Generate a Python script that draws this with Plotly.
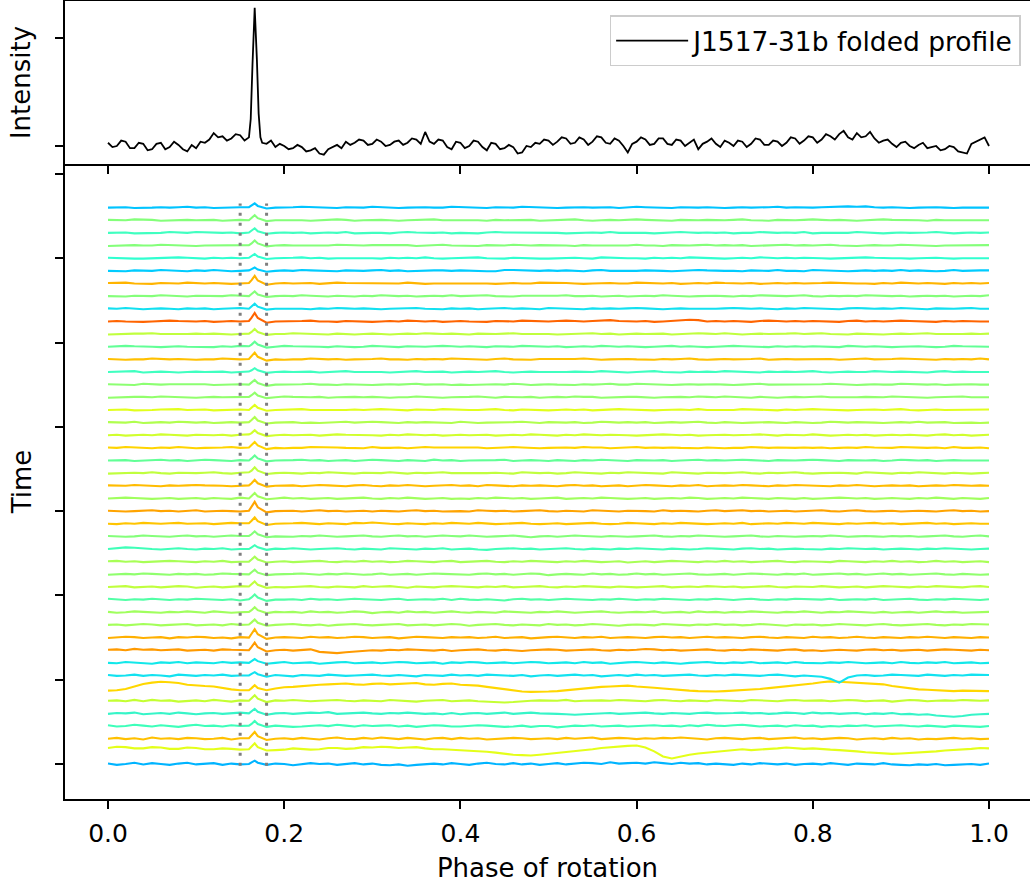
import plotly.graph_objects as go

# ---------------- data ----------------
# Folded (integrated) profile, arbitrary intensity units; phase bins of 0.005 plus the pulse
profile_phase = ([k / 200 for k in range(0, 33)]
                 + [0.162, 0.164, 0.1665, 0.169, 0.171, 0.173]
                 + [k / 200 for k in range(35, 201)])
profile_intensity = [
    3, -1, 0, 5, 4, -2, -2, 3, 2, -4, -3, 2, 3, -3, -1, 4, 1, -3, -5, 1,
    -2, 4, 3, 6, 12, 8, 9, 5, 7, 11, 10, 5, 8,
    25, 75, 128, 80, 30, 8,
    3, 2, 5, -1, 2, 0, -3, -2, 1, -1, -5, -4, -2, -7, -8, -3, -1, 1, -2, 4,
    1, 3, 6, 5, 1, 2, 6, 4, 0, 1, 4, 5, 1, 3, 7, 6, 2, 13, 4, 2,
    6, 5, -1, -3, 4, 3, -2, 0, 5, 4, -1, -4, 3, 2, -3, -2, 1, -1, -7, -6,
    0, -1, 3, 2, 6, 5, 1, 4, 8, 7, 2, 3, 8, 6, 1, 4, 9, 8, 3, 2,
    7, 5, 0, -6, 2, 4, 8, 6, 1, 2, 7, 7, 2, 1, 6, 5, 0, 3, 6, -3,
    2, 4, 7, 2, -1, 5, 3, 0, 5, 4, -1, 2, 7, 6, 1, 1, 5, 4, 0, 3,
    8, 7, 2, 5, 9, 8, 3, 6, 11, 9, 6, 11, 14, 8, 6, 12, 8, 9, 13, 7,
    3, 5, 6, 2, -1, 3, 4, 0, -2, 1, 3, -2, -1, 0, -4, -3, 0, -1, -5, -6,
    -7, 2, 4, 6, 8, 0,
]

# Sub-integrations, bottom -> top; phase bins of 0.01, values in tenths of a unit
trace_phase = [k / 100 for k in range(101)]
pulse_phase = [0.163, 0.1665]

subint_tenths = [
    [1,-2,0,3,-1,2,0,-2,1,3, -1,0,2,-2,1,-1,0,3,-2,1, 0,-3,-1,2,0,1,-2,0,2,-1, 1,-2,-3,-1,-4,-2,0,1,-1,2, 0,-2,1,3,0,-1,2,-1,1,-2, 0,2,-1,1,3,2,0,4,1,2, 3,1,4,2,0,3,1,2,-1,1, 0,-2,1,-1,2,0,-1,1,-2,0, 1,-1,2,0,-2,1,0,-1,2,-1, -2,-3,-1,-2,0,-3,-2,-1,0,-2, 1],
    [8,11,10,7,7,10,9,6,6,9, 8,5,5,7,6,4,5,10,2,3, 4,7,6,4,5,8,8,6,7,10, 9,11,10,8,9,10,7,5,5,4, 3,2,1,-1,-3,-6,-8,-9,-10,-8, -6,-4,-2,1,3,5,8,10,12,13, 14,9,0,-12,-17,-12,-8,-5,-3,0, 2,4,5,3,4,6,7,9,8,6, 7,5,4,3,2,0,-2,-3,-4,-6, -5,-4,-3,-1,0,2,3,5,6,8, 7],
    [0,2,-1,1,-2,3,0,1,-1,2, 1,-1,0,2,-2,1,1,6,-3,0, 1,-1,2,0,-2,1,3,0,-1,2, 0,3,1,-1,2,0,-2,1,2,-1, 2,0,1,-2,-1,0,2,1,-1,0, 1,-1,2,0,1,3,-1,0,2,1, -1,1,0,2,1,3,2,0,-2,1, 2,0,-1,1,2,-1,0,1,3,0, 1,-1,0,2,1,-2,0,1,-1,2, 0,1,-2,0,-1,1,2,0,1,-1, 0],
    [2,-1,0,3,1,-1,2,0,-2,1, 3,0,1,-1,2,0,1,5,-2,1, 0,-2,-1,1,2,0,3,1,-1,2, 0,1,2,-1,1,-2,0,2,1,-1, -1,0,2,1,0,-2,-1,1,-2,0, 0,-3,-1,1,0,2,-1,0,1,-1, 0,1,2,0,1,-1,2,0,3,1, 0,2,3,1,-1,0,1,-1,2,0, 1,-2,0,-1,1,0,2,-1,0,1, 2,0,-1,1,0,-2,1,0,-1,-2, 0],
    [-1,1,0,2,-2,0,1,-1,2,0, -2,0,1,-1,0,2,0,4,-3,0, 1,-1,0,2,1,3,-1,0,1,2, 0,-1,1,0,2,1,-1,0,-2,1, -2,0,1,-1,0,2,-1,1,2,0, 0,-1,-2,-3,-2,-1,0,1,-1,0, 1,2,0,-1,1,0,-1,1,2,0, 0,1,2,0,1,-1,0,2,1,-1, 2,0,1,-1,0,1,-2,0,-1,1, -2,-1,-3,-2,-5,-7,-8,-6,-3,-2, -1],
    [0,1,-1,2,-1,2,0,1,-2,0, 1,-1,2,0,-2,1,0,5,-3,1, 0,2,1,-1,0,1,2,0,-1,1, 0,-1,2,1,0,-2,0,1,2,-1, 0,1,-1,-2,-3,-4,-3,-1,0,1, 1,0,2,-1,0,1,1,0,2,1, 0,-1,1,2,0,-1,1,0,-1,2, 1,0,-1,2,1,0,-1,1,2,0, 0,1,-1,0,2,1,-1,0,1,-2, 0,2,1,-1,0,1,0,2,1,0, 1],
    [-6,-5,-2,4,10,13,15,14,12,8, 6,5,4,0,-3,-5,-5,0,-5,-1, 2,3,5,7,8,9,10,11,9,8, 10,11,9,10,11,12,9,8,10,11, 8,7,6,3,0,-3,-6,-8,-9,-9, -8,-7,-5,-3,0,2,3,4,5,6, 4,3,1,-1,-3,-5,-6,-7,-8,-8, -7,-6,-5,-4,-2,0,2,4,7,9, 11,14,16,15,14,13,12,10,9,5, 2,0,-3,-4,-5,-6,-7,-6,-6,-7, -7],
    [1,-1,0,2,-1,1,0,-2,2,0, -1,1,0,2,-1,0,0,3,-3,1, 0,-2,1,0,-1,2,1,-1,0,1, 2,0,-1,1,0,-2,1,0,-1,2, 0,1,-1,2,1,0,-1,1,-2,0, 1,-1,0,2,0,1,-2,0,1,-1, 2,0,1,-1,0,1,2,0,-1,1, 0,2,1,0,-1,1,2,0,-2,0, -1,-3,-8,-17,-5,0,1,-1,0,2, 1,0,-1,2,0,-1,1,0,2,1, 1],
    [0,-1,2,1,0,-2,1,0,2,-1, 1,0,-1,2,0,1,0,4,-2,0, 2,-1,0,1,-2,0,1,2,-1,0, 1,-1,0,2,1,-1,0,1,-2,1, 0,2,1,-1,0,1,-1,0,2,1, -1,0,1,-1,2,0,1,-2,0,1, 2,0,-1,1,0,-2,0,1,2,0, -1,1,0,2,-1,0,1,-1,2,0, 0,-1,1,0,2,1,-1,0,1,-1, 2,0,-1,1,0,2,-1,0,1,-1, 0],
    [1,2,0,3,1,2,0,1,2,-1, 0,1,-1,2,1,0,0,7,-3,0, 1,-1,0,2,-4,-6,-7,-5,-3,-1, 0,-1,1,0,2,1,0,-1,1,-2, 0,1,2,0,-1,1,0,-2,0,1, 2,1,-1,0,1,2,0,-1,1,0, 1,3,2,0,1,-1,0,1,2,0, -1,1,0,2,1,0,-1,1,2,-1, 0,-2,-1,1,0,-1,1,2,0,1, -1,0,1,-1,0,2,1,0,-1,1, 0],
    [-1,0,2,1,-1,0,1,-2,1,0, 2,1,-1,0,-2,1,0,8,-3,0, 1,0,-1,2,0,1,-1,0,2,1, -1,0,1,-2,0,2,1,0,-1,1, 0,1,-1,0,2,-1,0,1,-2,0, 1,2,0,-1,1,0,2,-1,0,1, 0,-1,1,2,0,1,-1,0,2,0, 1,0,-1,1,2,0,-1,1,0,-1, 2,0,1,-1,0,2,0,-1,1,0, -1,1,0,2,0,-1,1,0,-1,1, 0],
    [0,1,-1,0,2,1,-1,0,1,2, -1,0,1,-1,2,0,1,5,-2,0, 1,2,0,-1,1,-2,0,1,2,0, -1,0,1,2,-1,0,1,-1,0,2, 1,-2,0,1,2,0,-1,1,0,-1, 2,0,1,-1,0,2,1,0,-2,0, 1,0,-1,2,1,0,-1,1,0,2, 0,1,-1,0,2,1,0,-2,1,0, 1,-1,0,2,1,0,-1,1,2,0, -1,0,1,2,0,-1,1,0,2,1, 1],
    [1,-1,0,2,1,0,-1,1,0,2, 0,-1,2,1,-1,0,1,5,-2,1, 0,1,-1,2,0,1,-1,0,2,1, -2,0,1,-1,2,0,1,-1,0,2, 0,-1,1,0,-1,2,1,0,-1,1, 0,2,1,-1,0,1,2,0,-1,0, 1,0,2,-1,0,1,-1,2,0,1, -1,1,0,2,1,0,-1,1,0,2, 0,-1,1,0,2,1,0,-1,1,-1, 0,1,-1,0,2,0,1,-1,0,1, 1],
    [2,0,-1,1,0,2,1,-1,1,0, 2,1,0,-1,1,-2,1,5,-3,0, 0,1,-1,2,0,1,-1,0,2,1, 0,-1,1,2,-1,0,1,0,2,-1, 2,0,-1,1,0,-2,1,2,0,1, -1,0,2,1,0,-1,1,0,2,0, -1,1,0,2,1,0,-1,1,0,2, 0,-1,1,2,0,-1,1,0,2,1, 1,0,2,-1,0,1,0,2,-1,0, 1,2,0,-1,1,0,2,1,0,-1, 1],
    [0,1,2,-1,0,1,-1,0,2,1, -2,0,1,-1,0,2,1,5,-2,0, -1,0,1,2,0,-1,1,0,-1,2, 0,1,2,0,-2,1,0,-1,1,2, 1,0,-1,1,0,2,-1,0,1,2, 0,-1,1,0,2,1,0,-1,1,0, -1,0,1,2,-1,0,1,0,2,1, 0,1,-1,0,1,2,0,-1,1,0, 0,2,1,-1,0,1,-1,0,2,1, 0,-1,1,0,2,1,0,-1,1,2, 0],
    [-1,0,1,0,2,1,0,-1,1,0, 1,-1,0,2,1,0,0,4,-2,0, 0,1,2,0,-1,1,0,2,1,-1, 0,2,-1,0,1,-1,0,2,1,0, 0,-1,1,2,0,1,-1,0,2,1, -2,0,1,0,-1,2,0,1,-1,0, 2,0,1,-1,0,1,2,0,-1,0, 1,-1,0,2,1,0,-1,1,0,2, -1,0,1,2,0,1,-1,0,2,0, 1,-1,0,1,2,0,-1,1,0,-1, 0],
    [1,2,0,1,-1,0,1,2,1,0, -1,1,0,2,-1,0,0,5,-2,0, 1,-1,0,1,2,0,-1,1,0,2, 0,1,-1,0,2,1,0,-1,1,2, -1,0,1,2,0,-1,1,0,2,1, 0,-1,1,0,2,1,-1,0,1,-2, 0,1,-1,0,2,1,0,-1,1,0, 2,0,1,-1,0,1,2,0,-1,1, 1,0,-1,2,1,0,-1,1,0,2, 0,1,-1,0,2,0,1,-1,0,1, -1],
    [0,2,4,3,1,0,-1,1,2,0, -1,1,0,2,-1,0,0,4,-2,1, 0,2,1,-1,0,1,2,0,-1,1, 0,-1,2,1,0,-1,1,0,2,-1, 0,1,-1,-2,0,1,2,0,1,-1, 0,1,2,0,-1,1,0,-1,1,0, 2,1,0,-1,1,0,-1,0,2,1, 0,-1,1,2,0,1,-1,0,1,0, 0,-1,1,0,2,1,0,1,-1,0, 1,0,-1,1,0,2,1,0,-1,0, 1],
    [1,0,-1,0,2,1,0,-1,1,2, 0,1,-1,0,2,1,1,5,-2,0, 0,-1,1,0,2,1,-1,0,1,2, 0,-1,1,2,0,1,-1,0,2,1, 0,2,1,-1,0,1,2,0,-2,0, 1,-1,0,2,1,0,-1,1,0,-1, 0,1,2,0,-1,1,0,2,1,0, -1,0,1,2,0,-1,1,0,-1,0, 1,0,2,1,-1,0,1,0,-1,1, 0,1,-1,0,1,2,0,-1,1,2, 0],
    [0,-1,1,0,2,1,0,1,2,0, 0,1,-1,0,2,1,1,6,-3,0, 0,1,2,0,-1,1,0,-1,2,1, 3,1,0,-1,1,0,-1,1,0,2, 1,0,2,1,-1,0,1,2,0,-1, 0,1,-1,0,1,2,0,-1,0,2, 1,0,-1,1,0,2,1,0,-1,0, 1,0,2,-1,0,1,0,2,1,0, 2,1,0,-1,1,0,1,2,0,1, -1,0,1,2,0,1,-1,0,1,0, 0],
    [1,0,-1,0,1,2,0,1,-1,0, 2,-1,0,1,0,-1,1,9,-3,0, 0,1,-1,0,2,0,1,-1,0,1, -1,1,0,-1,1,2,0,1,-1,0, 0,-1,2,1,0,1,-1,0,1,2, 0,-1,1,0,-1,2,1,0,-1,1, 1,0,-1,2,0,1,0,-1,1,2, 0,1,2,0,1,-1,0,1,-1,0, 1,2,0,-1,1,2,0,-1,0,1, -1,0,1,0,-1,1,2,0,1,-1, 0],
    [0,1,2,1,0,-1,0,1,-1,0, 1,-1,1,0,-1,2,0,5,-2,0, 2,0,1,-1,0,1,-1,0,1,2, 0,-1,1,0,2,1,-1,0,1,-1, 0,-1,1,0,2,1,0,1,-1,0, 1,2,-1,0,1,0,2,1,0,-1, 0,1,-1,0,1,0,2,1,-1,0, 1,0,2,1,0,-1,1,0,-1,1, -1,0,1,2,1,0,1,-1,0,1, 0,-1,1,0,2,0,-1,1,0,-1, 1],
    [1,0,0,2,1,0,-1,1,0,1, 2,1,1,0,-1,0,1,6,-2,0, 0,1,-1,0,2,1,0,-1,1,2, 0,-1,1,0,2,1,-1,0,1,2, 0,1,-1,2,1,0,-1,1,0,1, 0,-1,1,2,0,1,-1,0,1,-1, 0,2,1,0,-1,1,0,2,-1,0, 1,0,2,1,0,-1,1,0,2,1, 1,0,-1,1,0,2,1,-1,0,1, 0,1,-1,0,1,0,2,1,0,1, 0],
    [-1,0,1,1,0,2,0,-1,1,0, 0,1,2,0,-1,1,2,6,-2,0, 1,0,-1,1,0,2,1,0,-1,1, 1,0,2,0,-1,1,0,1,2,0, 0,-1,-1,0,1,0,-1,2,1,0, 1,-1,0,2,1,0,-1,1,0,2, 1,0,0,-1,2,1,0,-1,1,0, 0,1,2,0,-1,1,0,1,2,0, -1,0,1,1,0,-1,2,1,0,-1, 1,0,2,1,0,-1,1,0,-1,0, 1],
    [0,1,1,-1,0,1,2,0,1,-1, 0,2,1,0,-1,1,0,5,-2,0, 0,1,2,0,1,-1,0,1,-1,0, 2,1,0,-1,1,0,-1,2,0,1, -1,0,0,1,1,2,-1,0,1,0, -1,1,0,-1,1,0,2,1,0,-1, 1,0,0,1,-1,0,1,2,0,1, 0,1,2,1,0,-1,1,0,0,1, 2,1,0,-1,1,0,0,1,-1,0, 2,1,0,1,-1,0,1,0,0,-1, 0],
    [1,0,2,1,0,-1,1,0,2,1, -1,0,0,1,2,0,1,6,-3,0, -1,0,0,2,2,1,1,0,0,-1, 2,0,0,1,-1,0,2,1,1,0, 0,1,1,-1,0,0,2,1,0,-1, 0,1,1,0,2,1,1,-1,0,1, 2,0,1,0,1,0,0,-1,1,0, -1,0,0,2,1,0,1,0,0,1, 0,1,-1,0,1,0,2,1,0,0, 2,1,0,0,1,-1,2,0,0,1, -1],
    [0,1,-1,0,1,0,2,1,0,-1, 1,0,0,1,-1,1,2,5,-2,0, 1,0,0,1,-1,0,2,1,1,0, 0,-1,1,0,2,1,0,1,-1,0, 1,0,0,1,-1,0,1,0,2,1, 0,-1,1,0,2,1,0,1,1,0, -1,0,0,2,1,0,1,-1,0,1, 1,0,0,1,2,0,-1,1,0,0, 2,0,-1,0,1,0,1,-1,0,1, 0,1,0,-1,1,2,0,1,-1,0, 1],
    [1,0,0,2,-1,0,1,0,2,1, 0,1,-1,0,1,0,1,5,-2,0, 0,1,-1,0,-1,0,1,2,0,1, 2,1,0,-1,1,0,1,0,0,-1, 2,1,-1,0,0,1,1,2,0,-1, 1,0,0,1,-1,0,2,1,0,1, 0,1,-1,0,1,0,1,2,0,-1, 1,0,-1,0,1,1,0,-1,1,0, -1,0,2,1,0,1,1,0,-1,0, 1,0,2,0,0,1,-1,0,0,-1, 0],
    [0,1,1,-1,-1,0,1,2,2,0, 0,1,-1,0,0,1,0,5,-2,0, 1,1,2,0,0,-1,-1,0,1,0, 1,2,1,0,-1,1,0,0,2,1, 1,0,0,1,2,0,-1,1,0,0, -1,0,1,0,1,-1,0,1,2,1, 0,0,-1,0,1,1,0,2,0,0, 1,0,2,1,0,0,-1,1,0,1, 2,1,0,-1,-1,0,1,1,0,1, 2,0,-1,0,1,0,0,1,1,0, 1],
    [-1,0,0,1,1,0,2,1,1,0, -1,0,1,0,0,1,1,4,-2,0, 2,1,0,0,1,-1,0,1,1,0, 1,0,-1,0,0,2,1,0,-1,0, 0,1,2,0,-1,1,0,0,1,-1, 0,1,0,2,1,1,-1,0,0,1, 1,0,-1,0,1,1,0,2,1,0, 2,1,0,-1,1,0,-1,0,1,0, 1,2,0,0,-1,0,1,1,0,2, 1,0,0,-1,0,1,1,2,0,0, 0],
    [1,0,0,-1,2,1,0,1,1,0, 0,1,-1,0,0,1,0,4,-3,0, 0,1,1,2,0,0,-1,1,0,0, -1,0,1,0,1,2,0,0,1,-1, 0,-1,0,1,1,0,2,1,-1,0, 1,0,0,-1,1,0,1,2,0,0, 2,1,0,0,-1,0,1,0,1,1, 0,-1,0,1,2,0,0,1,0,1, 0,1,2,1,0,-1,0,1,0,0, 2,1,0,0,1,-1,0,1,1,0, 0],
    [0,1,1,2,-1,0,1,0,-1,0, 1,0,0,1,-1,0,1,4,-2,0, 1,0,0,1,-1,0,1,2,0,0, 1,0,-1,0,1,2,0,1,1,-1, 0,1,0,1,2,0,-1,0,1,0, 0,-1,0,1,1,0,2,1,0,-1, 0,1,2,0,0,-1,1,0,1,0, 2,1,0,0,-1,1,0,1,0,1, 2,0,-1,0,1,0,0,2,1,0, 1,0,0,-1,1,2,0,1,0,0, 0],
    [1,0,-1,0,0,2,1,0,1,0, -1,0,0,2,1,0,1,6,-3,0, -1,0,0,2,1,0,1,-1,0,0, 1,2,0,0,-1,1,0,1,0,2, 1,0,0,-1,1,2,0,0,-1,1, 1,0,0,1,2,0,-1,0,1,1, 0,0,-1,1,0,1,2,0,-1,0, 1,0,0,1,2,-1,0,1,0,0, 1,0,1,-1,0,1,2,0,0,1, 2,1,0,0,-1,1,0,1,0,2, 0],
    [0,1,2,1,1,0,-1,0,1,0, 0,0,-1,1,0,2,1,5,-2,0, 2,1,1,0,0,-1,1,0,-1,0, 2,1,0,-1,1,0,0,1,2,1, 0,1,0,-1,1,0,0,2,1,0, 0,1,-1,0,1,0,2,1,0,1, 0,-1,0,1,2,0,1,0,-1,0, 1,2,1,0,0,-1,1,0,1,0, 1,0,0,-1,2,1,0,1,0,-1, 0,1,1,0,-1,0,2,1,1,0, 0],
    [-1,0,0,1,1,2,0,0,-1,0, 1,0,1,0,-1,0,1,5,-2,0, 0,2,1,0,0,-1,1,0,-1,0, 1,0,-1,0,1,0,2,1,0,1, 0,-1,1,0,0,1,2,0,0,1, 0,-1,0,1,1,2,0,1,-1,0, 1,0,0,1,-1,0,1,2,1,0, 2,0,-1,0,1,0,0,1,2,0, 1,2,0,0,-1,1,0,0,-1,0, 1,0,1,2,0,0,-1,0,1,0, 1],
    [0,1,0,-1,-1,0,1,2,1,0, 0,1,-1,0,1,0,1,8,-3,0, 0,1,1,2,0,0,-1,1,0,0, -1,0,1,0,2,1,0,1,-1,0, 1,0,0,-1,1,1,0,2,1,0, 0,1,2,1,0,1,2,3,1,0, 0,1,-1,0,1,2,4,3,0,1, 0,1,0,-1,1,2,1,0,1,0, 1,0,0,-1,1,2,0,1,0,1, 2,1,0,0,-1,1,0,1,0,0, 0],
    [1,0,2,0,-1,0,1,0,-1,1, 0,1,-1,0,1,2,0,5,-2,0, 0,1,0,-1,1,0,2,1,0,1, 0,-1,0,1,1,2,0,0,-1,1, 0,1,-1,0,1,2,0,1,0,-1, 2,1,0,0,-1,1,0,1,0,1, 2,1,0,-1,0,1,0,0,-1,0, 1,2,1,0,1,0,-1,1,0,2, 1,0,0,-1,1,2,1,0,1,0, 2,1,0,-1,1,0,0,1,2,0, 0],
    [0,0,-1,1,1,0,2,1,0,-1, 1,1,0,0,2,1,0,4,-2,0, 1,0,2,1,0,-1,1,0,-1,1, 0,2,1,0,1,-1,0,1,0,2, 0,1,1,2,0,0,-1,1,1,0, 0,1,2,0,0,1,-1,0,1,-1, 0,1,0,2,1,0,-1,0,1,1, 0,-1,1,0,2,1,0,0,1,2, 0,-1,1,0,1,0,2,1,0,0, 1,-1,0,1,0,1,-1,0,1,0, 2],
    [1,1,2,0,0,-1,1,1,0,2, 1,0,1,0,-1,0,1,7,-3,0, 1,0,0,1,-1,0,2,1,1,0, 1,0,1,0,2,1,-1,0,0,1, 1,1,0,0,-1,0,1,0,0,2, 2,1,1,0,-1,0,1,1,0,0, 2,1,0,0,1,-1,0,1,0,2, 1,0,0,1,-1,0,1,0,1,0, 0,1,2,1,1,0,0,-1,1,0, 2,1,0,1,0,-1,1,0,1,0, 1],
    [0,0,-1,1,1,0,2,1,0,-1, 1,0,2,0,-1,0,1,3,-2,0, 1,0,2,1,0,0,-1,1,0,0, 1,2,0,1,-1,0,0,1,1,0, 1,0,0,-1,-1,2,2,1,0,0, 1,0,1,0,-1,1,2,0,0,-1, 0,1,1,0,-1,0,1,2,1,0, 0,0,-1,1,1,0,2,0,0,-1, 2,1,1,0,-1,0,1,0,1,0, 2,0,1,0,-1,0,2,0,1,1, 1],
    [1,0,0,-1,-1,0,1,2,2,1, 0,-1,1,0,1,0,1,4,-2,0, 0,1,2,0,1,-1,0,0,1,1, 0,-1,1,0,1,0,2,0,-1,0, 1,1,2,0,0,-1,1,0,0,-1, -1,0,1,1,0,-1,2,1,0,0, 0,-1,1,0,1,0,2,1,0,0, -1,0,1,0,2,1,0,1,0,1, 1,0,-1,0,0,1,2,1,0,0, 0,-1,0,1,1,0,-1,0,0,1, 0],
    [-1,0,1,1,0,0,2,1,1,0, -1,0,0,1,1,0,1,5,-2,0, 1,0,0,-1,-1,0,2,1,0,0, 1,1,0,0,1,-1,0,1,2,0, 0,0,-1,1,1,0,2,1,0,1, 1,0,0,-1,1,0,0,1,1,0, 2,0,0,-1,1,0,0,1,2,0, 1,0,1,-1,0,0,1,2,0,1, 0,1,2,0,-1,-1,0,1,0,0, 2,1,1,0,-1,0,0,1,0,0, 1],
    [0,1,1,-1,-1,0,0,2,1,0, 2,1,0,0,1,-1,1,4,-2,0, 1,0,1,-1,0,1,0,2,-1,0, 0,0,-1,1,2,1,0,0,1,-1, 0,0,-1,1,2,1,1,0,0,1, 1,0,-1,0,1,1,0,2,0,0, 1,0,-1,0,0,2,1,0,1,0, 1,-1,0,0,2,1,0,1,0,2, -1,0,0,1,0,2,1,0,-1,0, 1,0,0,1,2,1,-1,0,1,0, 1],
    [1,0,0,2,2,1,-1,0,1,1, 0,1,1,-1,0,1,0,5,-2,0, 0,1,0,-1,0,1,2,1,-1,0, 1,1,0,-1,0,1,1,2,0,0, 0,1,0,-1,1,0,0,1,1,-1, 0,1,1,2,0,-1,0,1,0,1, 2,1,0,0,-1,1,0,0,1,0, 0,1,2,0,0,-1,1,0,0,1, 2,1,0,1,0,-1,0,1,2,1, 1,0,0,-1,1,0,0,1,1,0, 0],
    [0,0,1,-1,-1,0,1,0,1,2, 0,1,-1,0,0,1,1,4,-2,0, 0,1,2,1,1,0,-1,1,0,0, 2,1,0,-1,0,1,1,0,0,2, 1,0,0,-1,1,0,0,2,1,1, 0,-1,0,1,1,0,0,1,-1,0, 2,1,0,0,-1,1,0,0,1,0, -1,0,1,0,0,1,2,0,1,0, 0,1,2,3,3,2,3,1,0,1, 0,-1,0,1,1,0,-1,0,0,1, 0],
]

# pulse samples at pulse_phase, tenths of a unit
pulse_tenths = [
    [4, 8], [11, 19], [7, 16], [5, 12], [5, 11], [6, 13], [0, 7], [4, 8], [4, 9],
    [8, 18], [9, 20], [6, 13], [5, 12], [5, 12], [6, 13], [5, 11], [5, 12], [4, 9],
    [5, 12], [7, 15], [10, 22], [6, 13], [6, 14], [6, 14], [5, 12], [6, 14], [5, 12],
    [6, 13], [5, 12], [5, 11], [5, 11], [4, 9], [7, 16], [5, 12], [5, 12], [9, 20],
    [5, 12], [5, 11], [8, 18], [4, 8], [5, 10], [5, 12], [5, 11], [5, 12], [5, 10],
]

subint_colors = [
    "#00b4ff", "#e4ff1a", "#ffc000", "#3dffba", "#36f5c8", "#c4ff33", "#ffd700", "#12e2f0",
    "#12e8ea", "#ff9a00", "#ffb000", "#a4ff5a", "#a0ff5e", "#52ffa6", "#c0ff3e", "#90ff6e",
    "#a8ff56", "#40ffb8", "#84ff7a", "#ffc400", "#ffa400", "#a0ff5e", "#ffbc00", "#c0ff3e",
    "#62ff96", "#ffd400", "#d0ff2e", "#b0ff4e", "#e2ff1c", "#92ff6c", "#8cff72", "#40ffc0",
    "#ffc000", "#62ff96", "#c0ff3e", "#ff6400", "#12e0f0", "#84ff7a", "#ffb400", "#00ccff",
    "#30ffd0", "#84ff7a", "#40ffc0", "#84ff7a", "#00c4ff",
]

on_pulse_window = [0.15, 0.18]
x_ticks = [0.0, 0.2, 0.4, 0.6, 0.8, 1.0]
x_ticklabels = ["0.0", "0.2", "0.4", "0.6", "0.8", "1.0"]
time_ticks = [0, 20, 40, 60, 80, 100, 120, 140]
intensity_ticks = [0, 100]

assert len(profile_phase) == len(profile_intensity), (len(profile_phase), len(profile_intensity))
for n, row in enumerate(subint_tenths):
    assert len(row) == len(trace_phase), (n, len(row))
assert len(subint_tenths) == len(pulse_tenths) == len(subint_colors)

# ---------------- figure ----------------
FONT = "DejaVu Sans"
STACK = 3.0
fig = go.Figure()

fig.add_trace(go.Scatter(
    x=profile_phase, y=profile_intensity, mode="lines",
    line=dict(color="black", width=1.8), name="J1517-31b folded profile",
    xaxis="x2", yaxis="y2", showlegend=True, hoverinfo="skip"))

all_y = []
for i, (row, pulse, col) in enumerate(zip(subint_tenths, pulse_tenths, subint_colors)):
    pts = sorted(list(zip(trace_phase, row)) + list(zip(pulse_phase, pulse)))
    xs = [p for p, _ in pts]
    ys = [STACK * i + v / 10.0 for _, v in pts]
    all_y.extend(ys)
    fig.add_trace(go.Scatter(x=xs, y=ys, mode="lines", line=dict(color=col, width=2.1),
                             showlegend=False, hoverinfo="skip"))

ymin, ymax = min(all_y), max(all_y)
for ph in on_pulse_window:
    fig.add_trace(go.Scatter(x=[ph, ph], y=[ymin, ymax], mode="lines",
                             line=dict(color="#7f7f7f", width=3, dash="3px,7px"),
                             showlegend=False, hoverinfo="skip"))

W, H = 1030, 887
ML, MR, MT, MB = 65, 0, 1, 88
plot_h = H - MT - MB
split = 1 - 163 / plot_h
xr = [-43 / 881, (W - ML - MR - 43) / 881]

axis_common = dict(showgrid=False, zeroline=False, linecolor="black", linewidth=1.5,
                   ticks="outside", ticklen=8, tickwidth=1.5, tickcolor="black",
                   automargin=False)

fig.update_layout(
    width=W, height=H,
    margin=dict(l=ML, r=MR, t=MT, b=MB),
    paper_bgcolor="white", plot_bgcolor="white",
    font=dict(family=FONT, color="black", size=25),
    xaxis=dict(domain=[0, 1], anchor="y", range=xr, tickvals=x_ticks, ticktext=x_ticklabels,
               showline=True, mirror=False, tickfont=dict(size=25), ticklabelstandoff=3,
               title=dict(text="Phase of rotation", font=dict(size=26), standoff=12),
               **axis_common),
    yaxis=dict(domain=[0, split], anchor="x", range=[-35 / 4.215, (plot_h - 163 - 35) / 4.215],
               tickvals=time_ticks, showticklabels=False, showline=True, mirror=False,
               title=dict(text="Time", font=dict(size=26), standoff=16),
               **axis_common),
    xaxis2=dict(domain=[0, 1], anchor="y2", range=xr, tickvals=x_ticks, showticklabels=False,
                showline=True, mirror=True, **axis_common),
    yaxis2=dict(domain=[split, 1], anchor="x2", range=[-18 / 1.08, 145 / 1.08],
                tickvals=intensity_ticks, showticklabels=False, showline=True, mirror=False,
                title=dict(text="Intensity", font=dict(size=26), standoff=17),
                **axis_common),
    legend=dict(x=1020 / W, y=1 - 16 / H, xanchor="right", yanchor="top",
                bgcolor="white", bordercolor="#cccccc", borderwidth=1.5,
                font=dict(size=26.5), itemwidth=72),
    showlegend=True,
)

fig.write_html("out.html", config={"displayModeBar": False},
               post_script="document.body.style.margin='0px';")
